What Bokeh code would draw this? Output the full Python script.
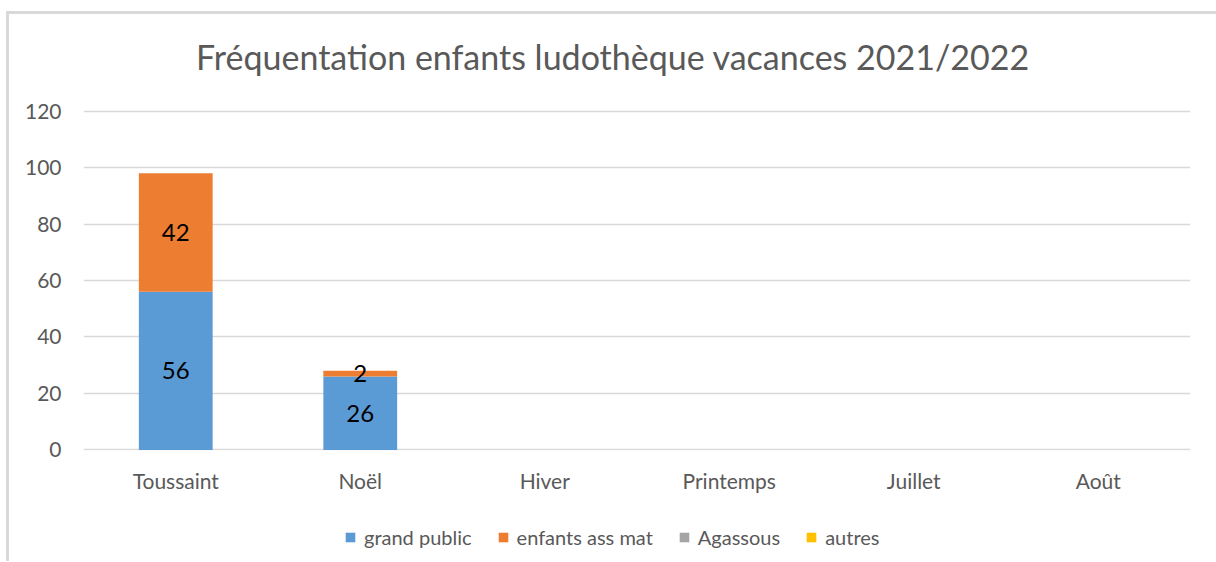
from bokeh.plotting import figure
from bokeh.layouts import column
from bokeh.models import (ColumnDataSource, FactorRange, Legend, LegendItem, LabelSet,
                          Label, Range1d, FixedTicker)
from bokeh.core.properties import value
from bokeh.embed import file_html
from bokeh.resources import INLINE

categories = ["Toussaint", "Noël", "Hiver", "Printemps", "Juillet", "Août"]
series_names = ["grand public", "enfants ass mat", "Agassous", "autres"]
grand_public = [56, 26, 0, 0, 0, 0]
enfants_ass_mat = [42, 2, 0, 0, 0, 0]
agassous = [0, 0, 0, 0, 0, 0]
autres = [0, 0, 0, 0, 0, 0]
colors = ["#5B9BD5", "#ED7D31", "#A5A5A5", "#FFC000"]
y_ticks = [0, 20, 40, 60, 80, 100, 120]
title_text = "Fréquentation enfants ludothèque vacances 2021/2022"

FONT = "Lato"
GREY = "#595959"

data = {"cat": categories, "grand public": grand_public, "enfants ass mat": enfants_ass_mat,
        "Agassous": agassous, "autres": autres}
source = ColumnDataSource(data)

# the frame extends above the 120 line to hold the chart title
p = figure(x_range=FactorRange(*categories, range_padding=0), y_range=Range1d(-0.2, 145.0),
           width=1207, height=490, output_backend="svg", toolbar_location=None,
           min_border_left=74, min_border_right=26, min_border_top=26, min_border_bottom=54)
p.outline_line_color = None
p.background_fill_color = "white"
p.border_fill_color = "white"

renderers = p.vbar_stack(series_names, x="cat", width=0.4, source=source,
                         color=colors, line_color=None)

# data labels for non-zero segments
lx, ly, lt = [], [], []
bottoms = [0] * len(categories)
for vals in [grand_public, enfants_ass_mat, agassous, autres]:
    for i, v in enumerate(vals):
        if v:
            lx.append(categories[i])
            ly.append(bottoms[i] + v / 2)
            lt.append(str(v))
        bottoms[i] += v
lsrc = ColumnDataSource(dict(x=lx, y=ly, t=lt))
p.add_layout(LabelSet(x="x", y="y", text="t", source=lsrc, text_align="center",
                      text_baseline="middle", text_font=value(FONT), text_font_size=value("24px"),
                      text_color="#000000"))

# title
p.add_layout(Label(x=2.87, y=139.3, text=title_text, text_align="center",
                   text_baseline="middle", text_font=FONT, text_font_size="34px",
                   text_color=GREY))

# axes
p.yaxis.ticker = FixedTicker(ticks=y_ticks)
p.yaxis.axis_line_color = None
p.yaxis.major_tick_line_color = None
p.yaxis.minor_tick_line_color = None
p.yaxis.major_label_standoff = 16
p.yaxis.major_label_text_font = FONT
p.yaxis.major_label_text_font_size = "21px"
p.yaxis.major_label_text_color = GREY

p.xaxis.axis_line_color = None
p.xaxis.major_tick_line_color = None
p.xaxis.major_label_standoff = 11
p.xaxis.major_label_text_font = FONT
p.xaxis.major_label_text_font_size = "21px"
p.xaxis.major_label_text_color = GREY

p.xgrid.grid_line_color = None
p.ygrid.grid_line_color = "#D9D9D9"
p.ygrid.grid_line_width = 1.3

# legend in a strip below the chart (same side borders as the chart, so the column keeps them aligned)
lg = figure(x_range=FactorRange(*categories), y_range=Range1d(1000, 1001),
            width=1207, height=57, output_backend="svg", toolbar_location=None,
            min_border_left=74, min_border_right=26, min_border_top=0, min_border_bottom=0)
lg.axis.visible = False
lg.grid.visible = False
lg.outline_line_color = None
lg.border_fill_color = "white"
lg.background_fill_color = "white"
lrs = lg.vbar_stack(series_names, x="cat", width=0.4, source=source,
                    color=colors, line_color=None)
legend = Legend(items=[LegendItem(label=n, renderers=[r]) for n, r in zip(series_names, lrs)],
                orientation="horizontal", location=(261, 12),
                label_text_font=FONT, label_text_font_size="20px", label_text_color=GREY,
                glyph_width=12, glyph_height=12, label_standoff=8, spacing=25,
                border_line_color=None, background_fill_alpha=0, margin=0, padding=4)
lg.add_layout(legend)

layout = column(p, lg, spacing=0,
                styles={"margin-left": "9px", "margin-top": "14px",
                        "box-shadow": "0 -3px 0 #D9D9D9, -3px 0 0 #D9D9D9, -3px -3px 0 #D9D9D9"})

open("out.html", "w").write(file_html(layout, INLINE))
